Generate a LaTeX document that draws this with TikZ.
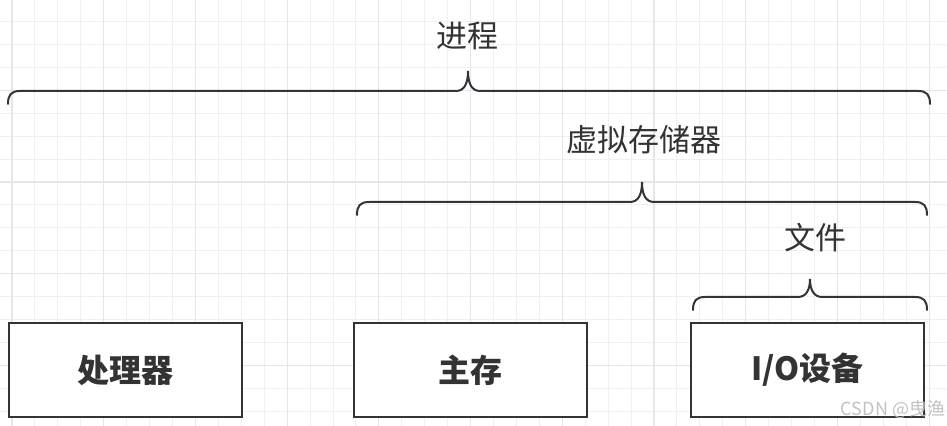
\documentclass[tikz,border=0pt]{standalone}
\usepackage{fontspec}
\setmainfont{Noto Sans CJK SC}

\definecolor{gridminor}{HTML}{F0F0F0}
\definecolor{gridmajor}{HTML}{E6E6E6}
\definecolor{edge}{HTML}{30353A}
\definecolor{ink}{HTML}{333333}
\definecolor{mark}{HTML}{C2C2C2}

\begin{document}
\begin{tikzpicture}[
          x=0.5pt, y=-0.5pt,
          minor/.style={draw=gridminor, line width=0.5pt},
          major/.style={draw=gridmajor, line width=0.6pt},
          box/.style={draw=edge, line width=1pt, fill=white, minimum width=116.5pt,
            minimum height=47pt, inner sep=0pt, text=ink,
            font=\fontsize{16}{18}\selectfont\bfseries},
          lbl/.style={text=ink, inner sep=0pt, font=\fontsize{15.5}{18}\selectfont},
          curly/.style={draw=edge, line width=1pt, line cap=round}
        ]
        \useasboundingbox (0,0) rectangle (947,426);
        % grid
        \foreach \k in {0,...,40} {
          \draw[minor] (12+\k*22.93,0) -- (12+\k*22.93,426); }
        \foreach \k in {1,...,18} {
          \draw[minor] (0,-1.4+\k*22.93) -- (947,-1.4+\k*22.93); }
        \foreach \k in {0,4,...,40} {
          \draw[major] (12+\k*22.93,0) -- (12+\k*22.93,426); }
        \foreach \k in {4,8,...,16} {
          \draw[major] (0,-1.4+\k*22.93) -- (947,-1.4+\k*22.93); }
        % boxes
        \node[box] (cpu) at (125.5,370) {处理器};
        \node[box] (mem) at (470,370) {主存};
        \node[box] (io) at (807.5,370) {I/O设备};
        % 进程
        \node[lbl] (proc) at (467,36) {进程};
        \draw[curly] (8,104) .. controls (8,95) and (11,91) .. (20,91)
          -- (456,91) .. controls (464,91) and (468,84) .. (468,71)
          .. controls (468,84) and (472,91) .. (480,91)
          -- (918,91) .. controls (927,91) and (930,95) .. (930,104);
        % 虚拟存储器
        \node[lbl] (vmem) at (643.5,140) {虚拟存储器};
        \draw[curly] (357,215) .. controls (357,206) and (360,202) .. (369,202)
          -- (630,202) .. controls (638,202) and (642,195) .. (642,182)
          .. controls (642,195) and (646,202) .. (654,202)
          -- (915,202) .. controls (924,202) and (927,206) .. (927,215);
        % 文件
        \node[lbl] (file) at (815,238) {文件};
        \draw[curly] (693,310) .. controls (693,301) and (696,297) .. (705,297)
          -- (798,297) .. controls (806,297) and (810,290) .. (810,279)
          .. controls (810,290) and (814,297) .. (822,297)
          -- (915,297) .. controls (924,297) and (927,301) .. (927,310);
        % watermark
        \node[text=mark, inner sep=0pt, font=\fontsize{9}{10}\selectfont] (wm) at (893,410) {CSDN @曳渔};
\end{tikzpicture}
\end{document}
